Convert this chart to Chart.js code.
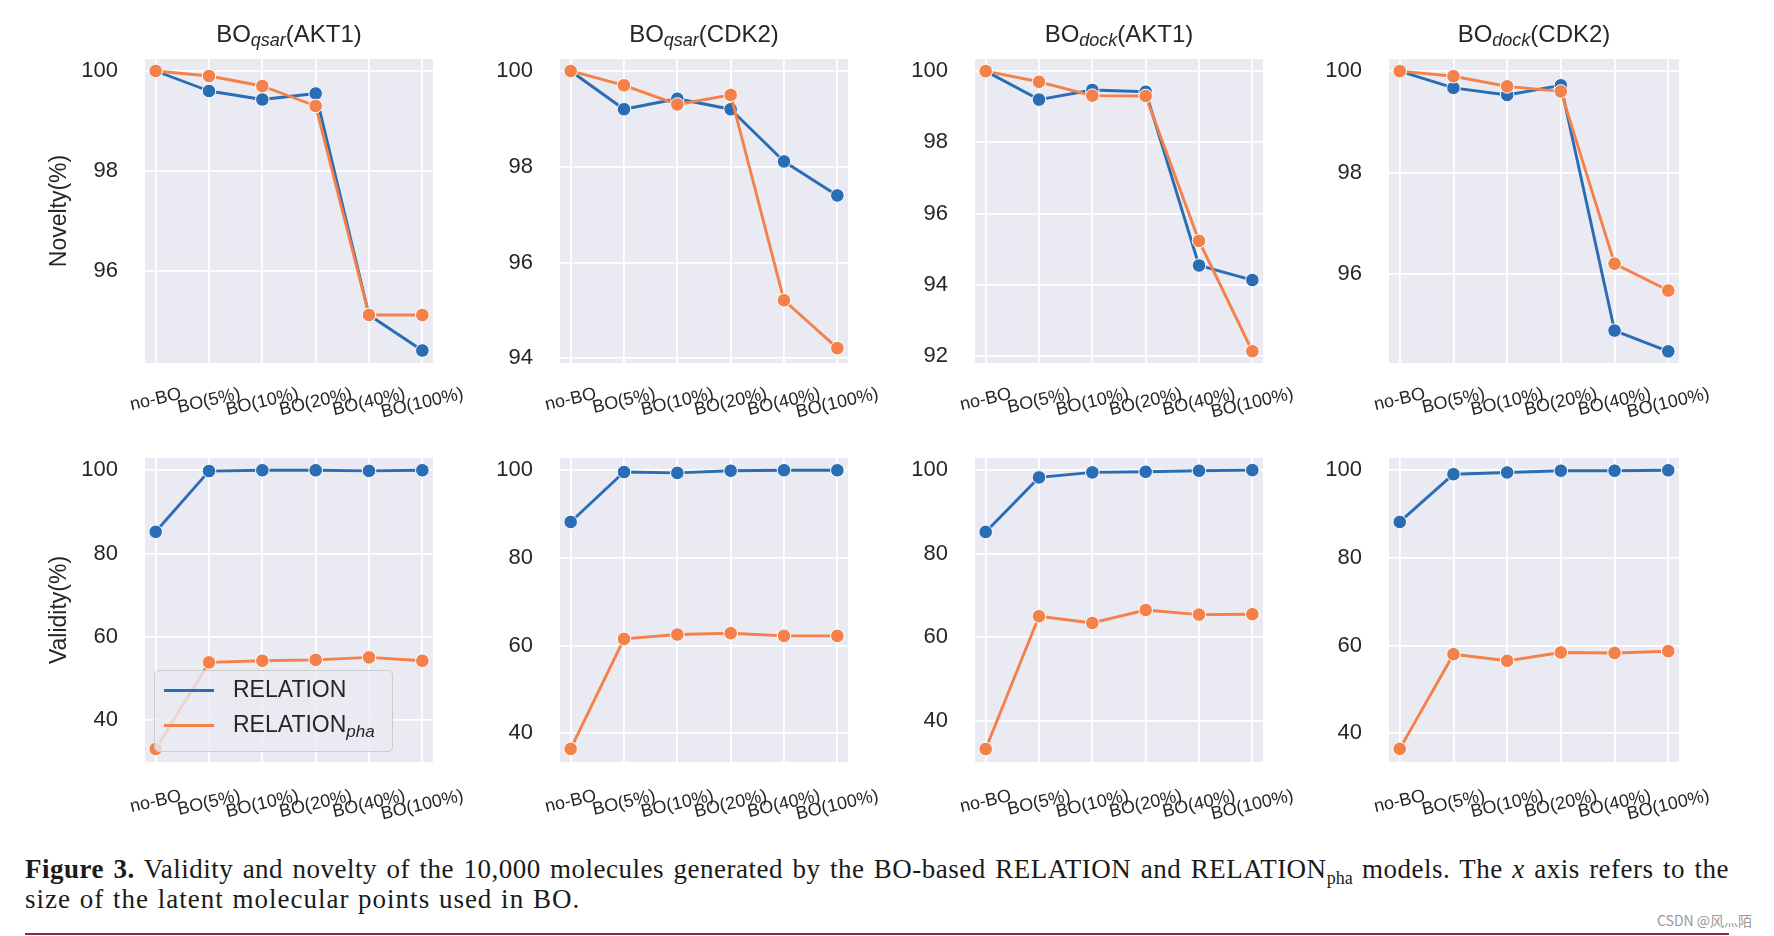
<!DOCTYPE html>
<html>
<head>
<meta charset="utf-8">
<script src="https://cdn.jsdelivr.net/npm/chart.js@4.4.1/dist/chart.umd.min.js"></script>
<style>
html,body{margin:0;padding:0;background:#fff;width:1774px;height:936px;overflow:hidden;}
#wrap{position:relative;width:1774px;height:936px;}
#wrap canvas{position:absolute;}
.ttl{position:absolute;width:300px;text-align:center;font-family:'Liberation Sans',Arial,sans-serif;font-size:24px;color:#262626;line-height:24px;white-space:nowrap;}
.ttl i{font-size:18px;position:relative;top:4px;}
#legend{position:absolute;left:154px;top:670px;width:237px;height:80px;border:1px solid #cccccc;border-radius:5px;background:rgba(234,234,242,0.8);z-index:5;font-family:'Liberation Sans',Arial,sans-serif;font-size:23px;color:#262626;}
#legend .sw{position:absolute;left:9px;width:50px;height:3px;}
#legend .lt{position:absolute;left:78px;line-height:23px;white-space:nowrap;}
#legend .lt i{font-size:17px;position:relative;top:5px;}
.cap{position:absolute;left:25px;width:1704px;font-family:'Liberation Serif','Times New Roman',serif;font-size:27px;line-height:30px;color:#1a1a1a;}
#cap1{top:854px;text-align:justify;text-align-last:justify;letter-spacing:0.5px;}
#cap2{top:884px;text-align:left;letter-spacing:1px;word-spacing:1px;}
.cap sub{font-size:18px;line-height:0;vertical-align:-6px;letter-spacing:0;}
#wm{position:absolute;left:1657px;top:910px;font-family:'Noto Sans CJK SC','Liberation Sans',sans-serif;font-size:14px;color:#999;white-space:nowrap;}
#rule{position:absolute;left:25px;top:933px;width:1704px;height:2px;background:#8e2546;}
</style>
</head>
<body>
<div id="wrap">
  <div class="ttl" id="t0">BO<i>qsar</i>(AKT1)</div>
  <div class="ttl" id="t1">BO<i>qsar</i>(CDK2)</div>
  <div class="ttl" id="t2">BO<i>dock</i>(AKT1)</div>
  <div class="ttl" id="t3">BO<i>dock</i>(CDK2)</div>
  <div id="legend">
    <div class="sw" style="top:18px;background:#2a6db5"></div>
    <div class="lt" style="top:7px">RELATION</div>
    <div class="sw" style="top:53px;background:#f4804a"></div>
    <div class="lt" style="top:42px">RELATION<i>pha</i></div>
  </div>
  <div class="cap" id="cap1"><b>Figure 3.</b> Validity and novelty of the 10,000 molecules generated by the BO-based RELATION and RELATION<sub>pha</sub> models. The <i>x</i> axis refers to the</div>
  <div class="cap" id="cap2">size of the latent molecular points used in BO.</div>
  <div id="wm">CSDN @风灬陌</div>
  <div id="rule"></div>
</div>
<script>
// ---------- DATA ----------
const categories = ['no-BO', 'BO(5%)', 'BO(10%)', 'BO(20%)', 'BO(40%)', 'BO(100%)'];
const seriesNames = ['RELATION', 'RELATION_pha'];

// Novelty (%)
const noveltyQsarAKT1Relation = [100, 99.6, 99.43, 99.55, 95.12, 94.41];
const noveltyQsarAKT1Pha      = [100, 99.9, 99.7, 99.3, 95.12, 95.12];
const noveltyQsarCDK2Relation = [100, 99.2, 99.42, 99.2, 98.11, 97.4];
const noveltyQsarCDK2Pha      = [100, 99.7, 99.3, 99.5, 95.21, 94.21];
const noveltyDockAKT1Relation = [100, 99.2, 99.47, 99.42, 94.54, 94.13];
const noveltyDockAKT1Pha      = [100, 99.7, 99.31, 99.3, 95.23, 92.13];
const noveltyDockCDK2Relation = [100, 99.67, 99.53, 99.72, 94.88, 94.47];
const noveltyDockCDK2Pha      = [100, 99.9, 99.7, 99.6, 96.2, 95.67];

// Validity (%)
const validityQsarAKT1Relation = [85.2, 99.8, 100, 100, 99.85, 100];
const validityQsarAKT1Pha      = [33.0, 53.8, 54.2, 54.4, 55.0, 54.2];
const validityQsarCDK2Relation = [88.2, 99.6, 99.4, 99.9, 100, 100];
const validityQsarCDK2Pha      = [36.4, 61.5, 62.5, 62.8, 62.2, 62.2];
const validityDockAKT1Relation = [85.2, 98.25, 99.45, 99.6, 99.85, 100];
const validityDockAKT1Pha      = [33.2, 65.0, 63.4, 66.5, 65.4, 65.5];
const validityDockCDK2Relation = [88.2, 99.1, 99.5, 99.9, 99.9, 100];
const validityDockCDK2Pha      = [36.4, 58.0, 56.5, 58.4, 58.3, 58.7];

// Tick labels
const noveltyTicksQsarAKT1 = [96, 98, 100];
const noveltyTicksQsarCDK2 = [94, 96, 98, 100];
const noveltyTicksDockAKT1 = [92, 94, 96, 98, 100];
const noveltyTicksDockCDK2 = [96, 98, 100];
const validityTicks = [40, 60, 80, 100];

// Axis limits
const noveltyLimits = [[94.16, 100.24], [93.9, 100.25], [91.8, 100.34], [94.24, 100.24]];
const validityLimits = [[29.85, 102.95], [33.4, 102.8], [30.1, 102.9], [33.4, 102.8]];

// ---------- LAYOUT / STYLE ----------
const BLUE = '#2a6db5', ORANGE = '#f4804a';
const FONT = "'Liberation Sans', Arial, sans-serif";
const TEXT = '#262626';
const colLeft = [145, 560, 975, 1389];
const colWidth = [288, 288, 288, 290];
const rowTop = [59, 458];
const rowLabelPad = [22, 25];
const PH = 304, YW = 110, PT = 45, PR = 50, PB = 70;
const GRIDW = 1.8;

Chart.defaults.font.family = FONT;

const panels = [
  {col:0,row:0,rel:noveltyQsarAKT1Relation,pha:noveltyQsarAKT1Pha,ticks:noveltyTicksQsarAKT1,lim:noveltyLimits[0],ytitle:'Novelty(%)'},
  {col:1,row:0,rel:noveltyQsarCDK2Relation,pha:noveltyQsarCDK2Pha,ticks:noveltyTicksQsarCDK2,lim:noveltyLimits[1]},
  {col:2,row:0,rel:noveltyDockAKT1Relation,pha:noveltyDockAKT1Pha,ticks:noveltyTicksDockAKT1,lim:noveltyLimits[2]},
  {col:3,row:0,rel:noveltyDockCDK2Relation,pha:noveltyDockCDK2Pha,ticks:noveltyTicksDockCDK2,lim:noveltyLimits[3]},
  {col:0,row:1,rel:validityQsarAKT1Relation,pha:validityQsarAKT1Pha,ticks:validityTicks,lim:validityLimits[0],ytitle:'Validity(%)'},
  {col:1,row:1,rel:validityQsarCDK2Relation,pha:validityQsarCDK2Pha,ticks:validityTicks,lim:validityLimits[1]},
  {col:2,row:1,rel:validityDockAKT1Relation,pha:validityDockAKT1Pha,ticks:validityTicks,lim:validityLimits[2]},
  {col:3,row:1,rel:validityDockCDK2Relation,pha:validityDockCDK2Pha,ticks:validityTicks,lim:validityLimits[3]}
];

for (let c = 0; c < 4; c++) {
  const t = document.getElementById('t' + c);
  t.style.left = (colLeft[c] + colWidth[c] / 2 - 150) + 'px';
  t.style.top = '22px';
}

const bgPlugin = {
  id: 'plotbg',
  beforeDraw(chart) {
    const {ctx, chartArea: a} = chart;
    ctx.save();
    ctx.fillStyle = '#EAEAF2';
    ctx.fillRect(a.left, a.top, a.right - a.left, a.bottom - a.top);
    ctx.restore();
  }
};

// x tick labels rotated about their centre (matplotlib style: ha=center, va=top)
const xLabelPlugin = {
  id: 'xlabels',
  afterDraw(chart, args, opts) {
    const xs = chart.scales.x, ctx = chart.ctx, a = chart.chartArea;
    const size = 18, ang = 13 * Math.PI / 180;
    ctx.save();
    ctx.font = size + 'px ' + FONT;
    ctx.fillStyle = TEXT;
    ctx.textAlign = 'center';
    ctx.textBaseline = 'middle';
    opts.labels.forEach((lab, i) => {
      const w = ctx.measureText(lab).width;
      const bh = w * Math.sin(ang) + size * Math.cos(ang);
      const x = xs.getPixelForValue(i);
      ctx.save();
      ctx.translate(x, a.bottom + opts.pad + bh / 2);
      ctx.rotate(-ang);
      ctx.fillText(lab, 0, 0);
      ctx.restore();
    });
    ctx.restore();
  }
};

const wrap = document.getElementById('wrap');
const toXY = arr => arr.map((v, i) => ({x: i, y: v}));

function ds(label, arr, color, order) {
  return {
    label, data: toXY(arr), borderColor: color, backgroundColor: color,
    pointBackgroundColor: color, pointBorderColor: '#ffffff', pointBorderWidth: 1,
    pointRadius: 6.8, pointHoverRadius: 6.8, borderWidth: 2.9, order, clip: false, tension: 0,
    borderJoinStyle: 'round', borderCapStyle: 'round'
  };
}

panels.forEach(p => {
  const L = colLeft[p.col], W = colWidth[p.col], T = rowTop[p.row];
  const cw = YW + W + PR, ch = PT + PH + PB;
  const cv = document.createElement('canvas');
  cv.width = cw; cv.height = ch;
  cv.style.left = (L - YW) + 'px'; cv.style.top = (T - PT) + 'px';
  cv.style.width = cw + 'px'; cv.style.height = ch + 'px';
  wrap.insertBefore(cv, wrap.firstChild);
  new Chart(cv, {
    type: 'line',
    data: {datasets: [ds(seriesNames[1], p.pha, ORANGE, 0), ds(seriesNames[0], p.rel, BLUE, 1)]},
    options: {
      responsive: false, maintainAspectRatio: false, animation: false, devicePixelRatio: 1,
      layout: {padding: {top: PT, right: PR, bottom: PB, left: 0}},
      plugins: {legend: {display: false}, tooltip: {enabled: false}, xlabels: {labels: categories, pad: rowLabelPad[p.row]}},
      scales: {
        x: {
          type: 'linear', min: -0.2, max: categories.length - 1 + 0.2,
          afterBuildTicks: ax => { ax.ticks = categories.map((c, i) => ({value: i})); },
          afterFit: s => { s.height = 0; },
          ticks: {display: false},
          grid: {color: '#ffffff', lineWidth: GRIDW, drawTicks: false},
          border: {display: false}
        },
        y: {
          min: p.lim[0], max: p.lim[1],
          afterBuildTicks: ax => { ax.ticks = p.ticks.map(v => ({value: v})); },
          afterFit: s => { s.width = YW; },
          ticks: {padding: 27, font: {family: FONT, size: 22}, color: TEXT},
          grid: {color: '#ffffff', lineWidth: GRIDW, drawTicks: false},
          border: {display: false},
          title: {display: !!p.ytitle, text: p.ytitle || '', font: {family: FONT, size: 23}, color: TEXT, padding: {top: 11, bottom: 0}}
        }
      }
    },
    plugins: [bgPlugin, xLabelPlugin]
  });
});
</script>
</body>
</html>
